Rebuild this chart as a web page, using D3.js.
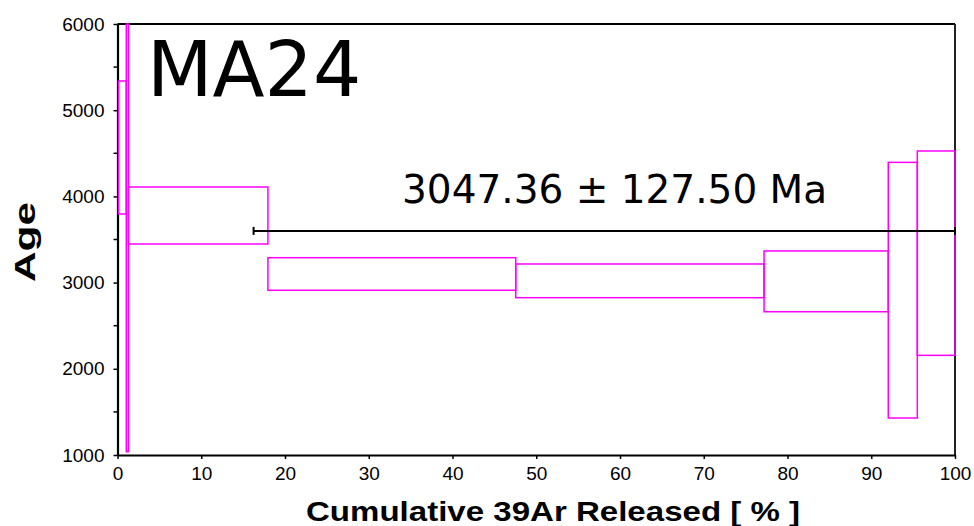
<!DOCTYPE html>
<html>
<head>
<meta charset="utf-8">
<script src="https://cdn.jsdelivr.net/npm/d3@7"></script>
<style>
  html, body { margin: 0; padding: 0; background: #fff; }
  svg { display: block; }
</style>
</head>
<body>
<svg id="chart" width="974" height="526"></svg>
<script>
// ---- data ----
const stepEdges = [0, 1.05, 1.3, 17.96, 47.55, 77.2, 92.03, 95.5, 100]; // cumulative 39Ar %
const ageHigh   = [5339, 9000, 4109, 3289, 3216, 3367, 4395, 4527];
const ageLow    = [3796, 1038, 3448, 2911, 2825, 2662, 1429, 2156];
const plateauStart = 16.25;
const plateauEnd = 100;
const plateauAge = 3600;
const xTicks = [0, 10, 20, 30, 40, 50, 60, 70, 80, 90, 100];
const yTicks = [1000, 2000, 3000, 4000, 5000, 6000];
const yMinorTicks = [1500, 2500, 3500, 4500, 5500];
const sampleName = "MA24";
const plateauLabel = "3047.36 \u00b1 127.50 Ma";
const xTitle = "Cumulative 39Ar Released [ % ]";
const yTitle = "Age";

(function () {
// ---- layout ----
const pLeft = 117.5, pRight = 955, pTop = 24, pBottom = 455;
const svg = d3.select("#chart");
const x = d3.scaleLinear().domain([0, 100]).range([pLeft, pRight]);
const y = d3.scaleLinear().domain([1000, 6000]).range([pBottom, pTop]);

svg.append("defs").append("clipPath").attr("id", "plotclip")
  .append("rect").attr("x", pLeft - 1).attr("y", pTop - 1)
  .attr("width", pRight - pLeft + 2).attr("height", pBottom - pTop + 2);

// frame: top and right
svg.append("line").attr("x1", pLeft).attr("x2", pRight).attr("y1", pTop).attr("y2", pTop)
  .attr("stroke", "#000").attr("stroke-width", 2);
svg.append("line").attr("x1", pRight).attr("x2", pRight).attr("y1", pTop).attr("y2", pBottom)
  .attr("stroke", "#222").attr("stroke-width", 2);

// axes
const xAxis = d3.axisBottom(x).tickValues(xTicks).tickSize(4).tickPadding(8).tickSizeOuter(0)
  .tickFormat(d3.format("d"));
const gx = svg.append("g").attr("transform", `translate(0,${pBottom})`).call(xAxis);
gx.select(".domain").attr("stroke-width", 2.2);
gx.selectAll(".tick line").attr("stroke-width", 1.5);
gx.selectAll("text").attr("font-family", "'Liberation Sans', Arial, sans-serif")
  .attr("font-size", 19).attr("fill", "#000");

const yAxis = d3.axisLeft(y).tickValues(yTicks).tickSize(4).tickPadding(9).tickSizeOuter(0)
  .tickFormat(d3.format("d"));
const gy = svg.append("g").attr("transform", `translate(${pLeft},0)`).call(yAxis);
gy.select(".domain").attr("stroke-width", 2.2);
gy.selectAll(".tick line").attr("stroke-width", 1.5);
gy.selectAll("text").attr("font-family", "'Liberation Sans', Arial, sans-serif")
  .attr("font-size", 19).attr("fill", "#000");
svg.append("g").selectAll("line").data(yMinorTicks).join("line")
  .attr("x1", pLeft - 4).attr("x2", pLeft).attr("y1", d => y(d)).attr("y2", d => y(d))
  .attr("stroke", "#000").attr("stroke-width", 1.5);

// steps (drawn over the frame)
const steps = ageHigh.map((h, i) => ({x0: stepEdges[i], x1: stepEdges[i + 1], hi: h, lo: ageLow[i]}));
svg.append("g").attr("clip-path", "url(#plotclip)")
  .selectAll("rect").data(steps).join("rect")
  .attr("x", d => x(d.x0) + (d.x0 === 0 ? 1 : 0))
  .attr("y", d => Math.max(y(d.hi), pTop))
  .attr("width", d => x(d.x1) - x(d.x0) - (d.x0 === 0 ? 1 : 0))
  .attr("height", d => y(d.lo) - Math.max(y(d.hi), pTop))
  .attr("fill", "none")
  .attr("stroke", "#ff00ff")
  .attr("stroke-width", 1.5);

// plateau line
const py = y(plateauAge);
svg.append("line").attr("x1", x(plateauStart)).attr("x2", x(plateauEnd)).attr("y1", py).attr("y2", py)
  .attr("stroke", "#000").attr("stroke-width", 2);
[plateauStart, plateauEnd].forEach(v => {
  svg.append("line").attr("x1", x(v)).attr("x2", x(v)).attr("y1", py - 4).attr("y2", py + 4)
    .attr("stroke", "#000").attr("stroke-width", 2);
});

// labels
svg.append("text").attr("x", 147).attr("y", 96)
  .attr("font-family", "'DejaVu Sans', sans-serif").attr("font-size", 76).attr("fill", "#000")
  .text(sampleName);
svg.append("text").attr("x", 402).attr("y", 203)
  .attr("font-family", "'DejaVu Sans', sans-serif").attr("font-size", 39).attr("fill", "#000")
  .text(plateauLabel);

svg.append("text").attr("x", 553).attr("y", 521)
  .attr("text-anchor", "middle")
  .attr("font-family", "'Liberation Sans', Arial, sans-serif").attr("font-weight", "bold")
  .attr("font-size", 28).attr("fill", "#000")
  .attr("textLength", 494).attr("lengthAdjust", "spacingAndGlyphs")
  .text(xTitle);

svg.append("text").attr("transform", "translate(35,242) rotate(-90)")
  .attr("text-anchor", "middle")
  .attr("font-family", "'Liberation Sans', Arial, sans-serif").attr("font-weight", "bold")
  .attr("font-size", 29).attr("fill", "#000")
  .attr("textLength", 80).attr("lengthAdjust", "spacingAndGlyphs")
  .text(yTitle);
})();
</script>
</body>
</html>
